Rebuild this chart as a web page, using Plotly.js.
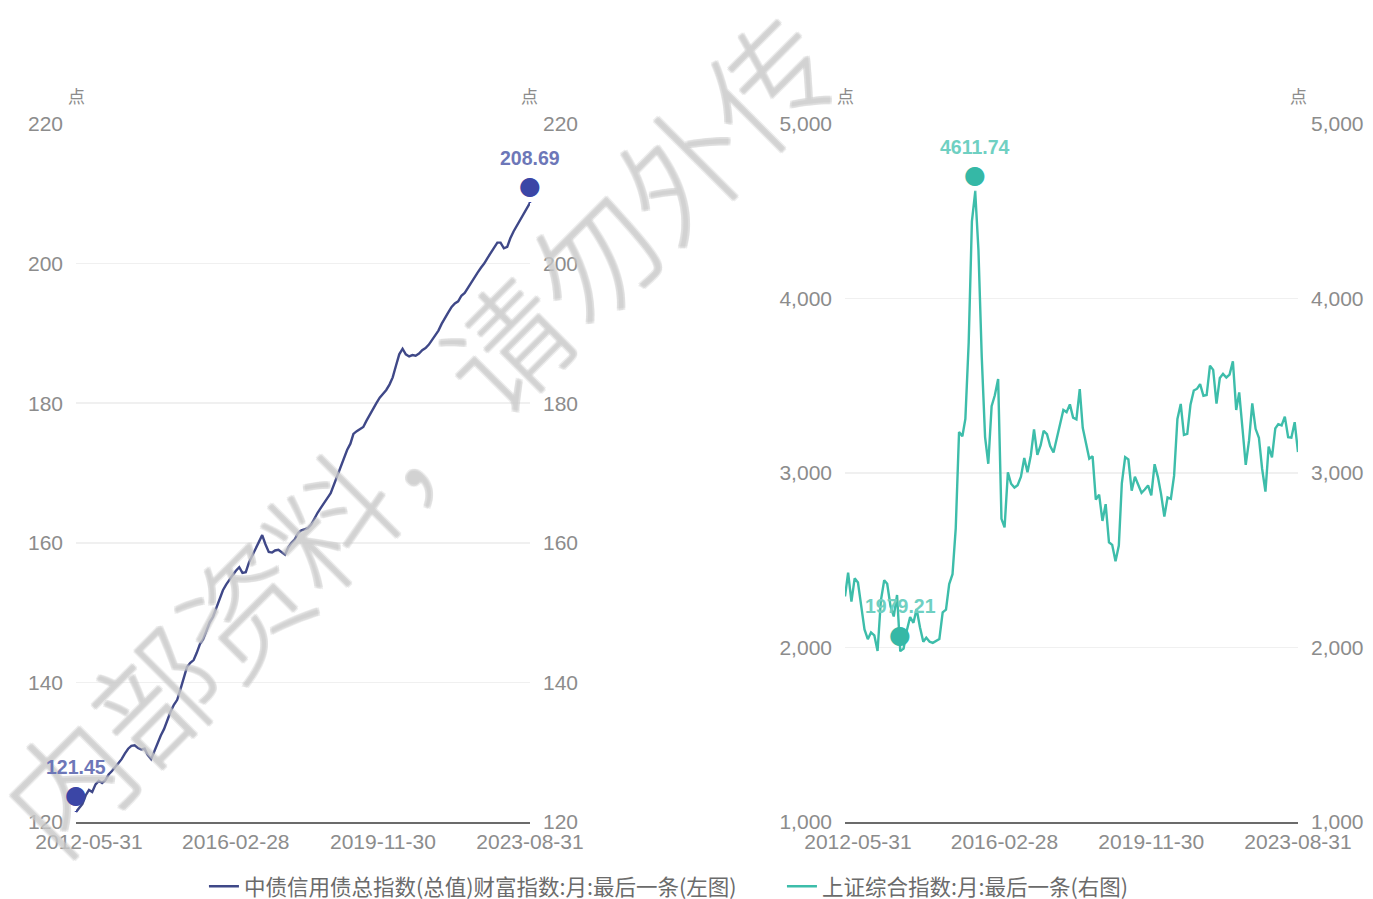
<!DOCTYPE html>
<html>
<head>
<meta charset="utf-8">
<script src="https://cdn.plot.ly/plotly-3.0.1.min.js"></script>
<style>
html,body{margin:0;padding:0;background:#fff;}
#chart{width:1373px;height:899px;}
</style>
</head>
<body>
<div id="chart"></div>
<script>
// ---- data ----
const startYear = 2012, startMonth = 1; // first monthly point: 2012-01
const bondName = '中债信用债总指数(总值)财富指数:月:最后一条(左图)';
const sseName = '上证综合指数:月:最后一条(右图)';
const bondValues = [
121.45,122.0,122.6,123.8,124.6,124.3,125.4,125.9,125.6,126.0,126.8,127.3,
127.9,128.4,129.0,129.8,130.5,130.9,131.0,130.6,130.4,130.5,129.6,129.0,
130.2,131.4,132.4,133.3,134.6,135.8,136.8,137.5,139.0,140.8,142.2,142.8,
143.2,144.2,145.5,146.2,147.3,148.6,149.4,150.6,152.0,153.2,154.0,154.8,
155.4,156.0,156.5,155.7,155.8,157.2,158.2,159.2,160.2,161.1,159.8,158.7,
158.6,158.9,159.0,158.6,158.3,159.3,160.0,160.5,161.4,161.8,162.0,162.1,
162.6,163.5,164.3,165.0,165.8,166.4,167.1,168.4,169.6,170.8,172.2,173.3,
174.2,175.6,176.0,176.3,176.6,177.5,178.4,179.2,180.0,180.8,181.3,181.9,
182.7,183.7,185.4,187.0,187.8,187.0,186.7,186.9,186.8,187.1,187.6,187.9,
188.4,189.0,189.6,190.4,191.4,192.3,193.0,193.8,194.3,194.6,195.4,195.8,
196.6,197.3,198.0,198.7,199.4,200.0,200.8,201.6,202.3,203.0,203.0,202.2,
202.4,203.6,204.6,205.4,206.4,207.2,208.0,208.69];
const sseValues = [
2292.61,2428.49,2262.79,2396.32,2372.23,2225.43,2103.63,2047.52,2086.17,2068.88,1980.12,2269.13,
2385.42,2365.59,2236.62,2177.91,2300.60,1979.21,1993.80,2098.38,2174.67,2141.61,2220.50,2115.98,
2033.08,2056.30,2033.31,2026.36,2039.21,2048.33,2201.56,2217.20,2363.87,2420.18,2682.83,3234.68,
3210.36,3310.30,3747.90,4441.66,4611.74,4277.22,3663.73,3205.99,3052.78,3382.56,3445.40,3539.18,
2737.60,2687.98,3003.92,2938.32,2916.62,2929.61,2979.34,3085.49,3004.70,3100.49,3250.03,3103.64,
3159.17,3241.73,3222.51,3154.66,3117.18,3192.43,3273.03,3360.81,3348.94,3393.34,3317.19,3307.17,
3480.83,3259.41,3168.90,3082.23,3095.47,2847.42,2876.40,2725.25,2821.35,2602.78,2588.19,2493.90,
2584.57,2940.95,3090.76,3078.34,2898.70,2978.88,2932.51,2886.24,2905.19,2929.06,2871.98,3050.12,
2976.53,2880.30,2750.30,2860.08,2852.35,2984.67,3310.01,3395.68,3218.05,3224.53,3391.76,3473.07,
3483.07,3509.08,3441.91,3446.86,3615.48,3591.20,3397.36,3543.94,3568.17,3547.34,3563.89,3639.78,
3361.44,3462.31,3252.20,3047.06,3186.43,3398.62,3253.24,3202.14,3024.39,2893.48,3151.34,3089.26,
3255.67,3279.61,3272.86,3323.27,3204.56,3202.06,3291.04,3119.88];
const tickDates = ['2012-05-31','2016-02-28','2019-11-30','2023-08-31'];
const tickLabels = ['2012-05-31','2016-02-28','2019-11-30','2023-08-31'];
const leftTicks = [120,140,160,180,200,220];
const rightTicks = [1000,2000,3000,4000,5000];
const unitLabel = '点';
const watermark = '内部资料，请勿外传';

// month-end dates
function monthEnds(n){
  const out=[];
  for(let i=0;i<n;i++){
    const d=new Date(Date.UTC(startYear, startMonth-1+i+1, 0));
    out.push(d.toISOString().slice(0,10));
  }
  return out;
}
const bondDates = monthEnds(bondValues.length);
const sseDates = monthEnds(sseValues.length);

const navy = '#3f4888', navyPin = '#3b46a6', navyLabel = '#6d77b8';
const teal = '#3dbdaa', tealPin = '#35b8a6', tealLabel = '#6fd0c2';
const tickFont = {family:'Liberation Sans, Arial, sans-serif', size:21, color:'#8c8c8c'};

const traces = [
  {x:bondDates, y:bondValues, type:'scatter', mode:'lines', name:bondName, legend:'legend',
   line:{color:navy, width:2.4}, xaxis:'x', yaxis:'y'},
  {x:sseDates, y:sseValues, type:'scatter', mode:'lines', name:sseName, legend:'legend2',
   line:{color:teal, width:2.4}, xaxis:'x2', yaxis:'y2'},
  // mirrored right-hand axes (same series, transparent) so the right tick labels are drawn
  {x:bondDates, y:bondValues, type:'scatter', mode:'lines', showlegend:false, hoverinfo:'skip',
   opacity:0, line:{width:0}, xaxis:'x', yaxis:'y3'},
  {x:sseDates, y:sseValues, type:'scatter', mode:'lines', showlegend:false, hoverinfo:'skip',
   opacity:0, line:{width:0}, xaxis:'x2', yaxis:'y4'}
];

function argExt(arr, fn){ let k=0; arr.forEach((v,i)=>{ if(fn(v,arr[k])) k=i; }); return k; }
const annotations = [];

// watermark (drawn first)
annotations.push({xref:'paper', yref:'paper', x:0.2774, y:0.5616, xanchor:'center', yanchor:'middle',
  text:watermark, showarrow:false,
  textangle:-45, font:{family:'Noto Sans CJK SC', size:124, weight:300, color:'rgba(215,215,215,0.35)',
  shadow:'1.5px 0 0 rgba(190,190,190,0.8), -1.5px 0 0 rgba(190,190,190,0.8), 0 1.5px 0 rgba(190,190,190,0.8), 0 -1.5px 0 rgba(190,190,190,0.8)'}});

function pin(xr, yr, x, y, color, lcolor, label){
  annotations.push({xref:xr, yref:yr, x:x, y:y, text:'●', showarrow:true, ax:0, ay:-17,
    arrowhead:0, arrowwidth:2.5, arrowcolor:color, standoff:0,
    font:{family:'DejaVu Sans', size:25, color:color}});
  annotations.push({xref:xr, yref:yr, x:x, y:y, text:label, showarrow:false, yshift:45,
    font:{family:'Liberation Sans, Arial', size:19.5, color:lcolor, weight:700}});
}
const bMax = argExt(bondValues,(a,b)=>a>b), bMin = argExt(bondValues,(a,b)=>a<b);
const sMax = argExt(sseValues,(a,b)=>a>b), sMin = argExt(sseValues,(a,b)=>a<b);
pin('x','y', bondDates[bMax], bondValues[bMax], navyPin, navyLabel, bondValues[bMax].toFixed(2));
pin('x','y', bondDates[bMin], bondValues[bMin], navyPin, navyLabel, bondValues[bMin].toFixed(2));
pin('x2','y2', sseDates[sMax], sseValues[sMax], tealPin, tealLabel, sseValues[sMax].toFixed(2));
pin('x2','y2', sseDates[sMin], sseValues[sMin], tealPin, tealLabel, sseValues[sMin].toFixed(2));

// unit labels
const unitFont = {family:'Noto Sans CJK SC', size:17, color:'#8c8c8c'};
[['x domain',0],['x domain',1],['x2 domain',0],['x2 domain',1]].forEach(([xr,xv])=>{
  annotations.push({xref:xr, yref:'paper', x:xv, y:1, xanchor:'center', yanchor:'bottom', yshift:14,
    text:unitLabel, showarrow:false, font:unitFont});
});

const xBase = {type:'date', tickmode:'array', tickvals:tickDates, ticktext:tickLabels,
  showgrid:false, zeroline:false, showline:true, linecolor:'#6b6b6b', linewidth:2, ticks:'',
  tickfont:tickFont, range:[bondDates[0], bondDates[bondDates.length-1]], fixedrange:true};
const yLeft = {range:[120,220], tickmode:'array', tickvals:leftTicks, showgrid:true, gridcolor:'#f0f0f0',
  gridwidth:1.5, zeroline:false, showline:false, ticks:'', tickfont:tickFont, ticklabelstandoff:12};
const yRight = {range:[1000,5000], tickmode:'array', tickvals:rightTicks, tickformat:',d', showgrid:true,
  gridcolor:'#f0f0f0', gridwidth:1.5, zeroline:false, showline:false, ticks:'', tickfont:tickFont, ticklabelstandoff:12};

const legendFont = {family:'Noto Sans CJK SC', size:21.5, color:'#6b6b6b'};
const layout = {
  width:1373, height:899,
  margin:{l:76, r:75, t:124, b:77, autoexpand:false},
  paper_bgcolor:'#fff', plot_bgcolor:'#fff',
  showlegend:true,
  legend:{orientation:'h', x:0.1047, xanchor:'left', y:-0.092, yanchor:'middle', font:legendFont, itemwidth:30},
  legend2:{orientation:'h', x:0.5777, xanchor:'left', y:-0.092, yanchor:'middle', font:legendFont, itemwidth:30},
  xaxis: Object.assign({}, xBase, {domain:[0, 0.3715], anchor:'y'}),
  xaxis2: Object.assign({}, xBase, {domain:[0.6293, 1], anchor:'y2', range:[sseDates[0], sseDates[sseDates.length-1]]}),
  yaxis: Object.assign({}, yLeft, {anchor:'x', side:'left'}),
  yaxis3: Object.assign({}, yLeft, {anchor:'x', side:'right', overlaying:'y', showgrid:false}),
  yaxis2: Object.assign({}, yRight, {anchor:'x2', side:'left'}),
  yaxis4: Object.assign({}, yRight, {anchor:'x2', side:'right', overlaying:'y2', showgrid:false}),
  annotations: annotations
};

Plotly.newPlot('chart', traces, layout, {displayModeBar:false, staticPlot:true});
</script>
</body>
</html>
